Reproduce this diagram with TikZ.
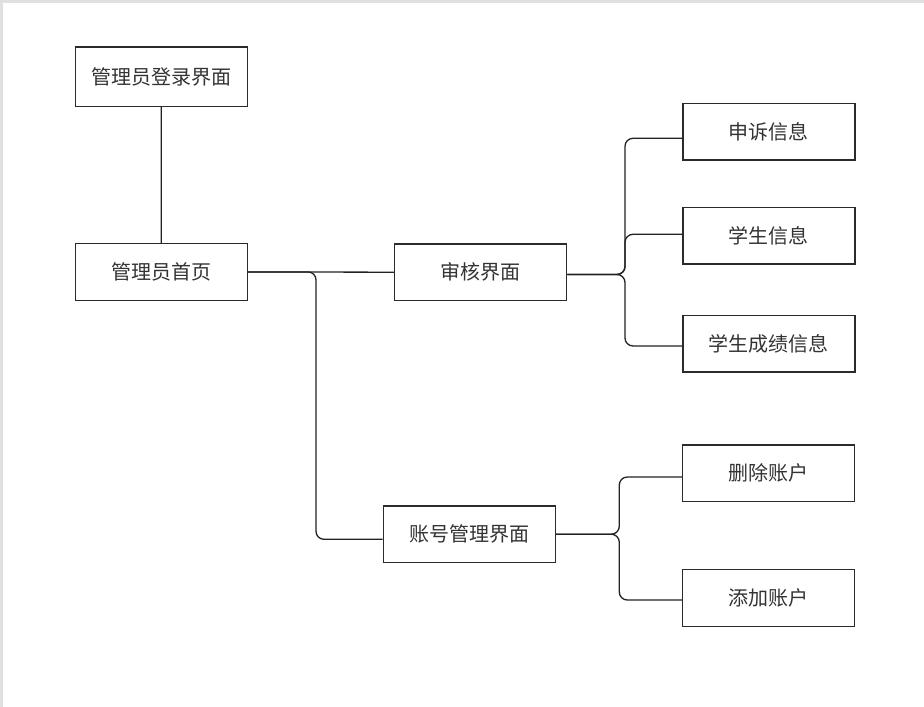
\documentclass[tikz,border=0pt]{standalone}
\usepackage{fontspec}
\setmainfont{Noto Sans CJK SC}
\definecolor{framec}{HTML}{E0E0E0}
\definecolor{boxc}{HTML}{2B2B2B}
\definecolor{linec}{HTML}{222222}
\definecolor{txt}{HTML}{333333}
\begin{document}
\begin{tikzpicture}[x=1pt,y=-1pt,
  box/.style={draw=boxc, line width=1.2pt, fill=white, minimum width=172pt, minimum height=56.5pt, inner sep=0pt, font=\fontsize{20}{24}\selectfont, text=txt},
  conn/.style={draw=linec, line width=1.3pt, rounded corners=8pt}]
\fill[framec] (0,0) rectangle (924,707);
\fill[white] (3,3) rectangle (924,707);
\useasboundingbox (0,0) rectangle (924,707);

\node[box, minimum height=59.3pt] (A) at (161.2,76.7) {管理员登录界面};
\node[box] (B) at (161.3,271.9) {管理员首页};
\node[box] (C) at (480.8,272.2) {审核界面};
\node[box] (S1) at (768.9,131.8) {申诉信息};
\node[box] (S2) at (768.9,235.8) {学生信息};
\node[box] (S3) at (768.9,343.7) {学生成绩信息};
\node[box] (D) at (469.3,534.2) {账号管理界面};
\node[box] (D1) at (768.8,473.3) {删除账户};
\node[box] (D2) at (768.8,598) {添加账户};

\coordinate (bx) at (316,0);
\coordinate (cj) at (625,274.5);
\coordinate (dj) at (619.3,534.2);

\draw[conn] (A) -- (B);
\draw[conn] (B.east) -- (C.west);
\draw[conn] (B.east) -- (bx |- B.east) |- ([yshift=-5.1pt]D.west);

\draw[conn] ([yshift=-2.3pt]C.east) -- (cj) |- ([yshift=-6.5pt]S1.west);
\draw[conn] ([yshift=-2.3pt]C.east) -- (cj) |- ([yshift=1.5pt]S2.west);
\draw[conn] ([yshift=-2.3pt]C.east) -- (cj) |- ([yshift=-2.3pt]S3.west);

\draw[conn] (D.east) -- (dj) |- ([yshift=-3.7pt]D1.west);
\draw[conn] (D.east) -- (dj) |- ([yshift=-2pt]D2.west);
\end{tikzpicture}
\end{document}
